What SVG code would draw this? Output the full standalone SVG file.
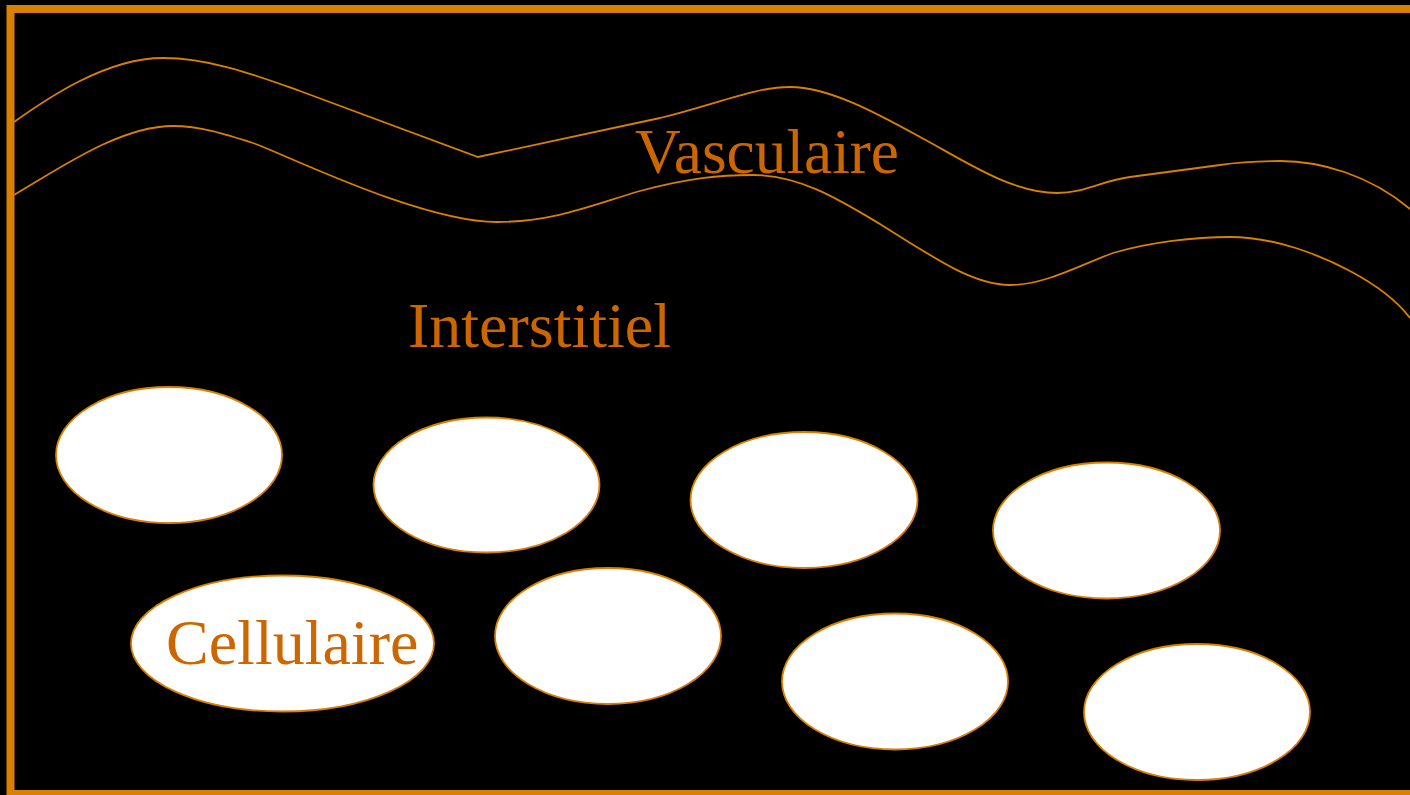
<svg xmlns="http://www.w3.org/2000/svg" width="1410" height="795" viewBox="0 0 1410 795">
<style>
.bg{fill:#000000}
.frame{fill:none;stroke:#D98000;stroke-width:8}
.vessel{fill:none;stroke:#D98000;stroke-width:1.8}
.cell{fill:#FFFFFF;stroke:#D98000;stroke-width:1.8}
.lbl{font-family:"Liberation Serif","Times New Roman",serif;font-size:64px;fill:#CC6600}
</style>
<rect class="bg" x="0" y="0" width="1410" height="795"/>
<rect id="frame" class="frame" x="10.5" y="9" width="1420" height="785"/>
<g id="vessel">
<path class="vessel" d="M14,122 C45,100 105,58 163,58 C210,58 255,75 300,91 L478,157 L660,118 C720,103 755,87 790,87 C830,87 880,115 920,137 C960,158 1010,193 1057,193 C1085,193 1100,181 1130,177 L1220,165 C1245,161 1262,161 1280,161 C1320,161 1370,175 1410,209"/>
<path class="vessel" d="M14,195 C60,168 120,126 173,126 C200,126 225,134 253,143 C280,152 420,222 497,222 C555,222 595,204 640,191 C688,178 720,175 753,175 C800,175 840,200 880,224 C940,262 975,285 1010,285 C1045,285 1080,265 1113,253 C1150,242 1195,237 1230,237 C1275,237 1320,255 1350,271 C1380,287 1398,302 1410,318"/>
<text class="lbl" x="635" y="173" textLength="264" lengthAdjust="spacingAndGlyphs">Vasculaire</text>
</g>
<g id="interstitiel">
<text class="lbl" x="408" y="347">Interstitiel</text>
</g>
<g id="cells">
<ellipse id="cell1" class="cell" cx="169" cy="455" rx="113" ry="68"/>
<ellipse id="cell2" class="cell" cx="486.5" cy="485" rx="113" ry="67.5"/>
<ellipse id="cell3" class="cell" cx="804" cy="500" rx="113.5" ry="68"/>
<ellipse id="cell4" class="cell" cx="1106.5" cy="530.5" rx="113.5" ry="68"/>
<ellipse id="cell5" class="cell" cx="608" cy="636" rx="113" ry="68"/>
<ellipse id="cell6" class="cell" cx="895" cy="681.5" rx="113" ry="68"/>
<ellipse id="cell7" class="cell" cx="1197" cy="712" rx="113" ry="68"/>
<g id="cellulaire">
<ellipse class="cell" cx="282.5" cy="643.5" rx="151.5" ry="68"/>
<text class="lbl" x="166" y="664">Cellulaire</text>
</g>
</g>
</svg>
